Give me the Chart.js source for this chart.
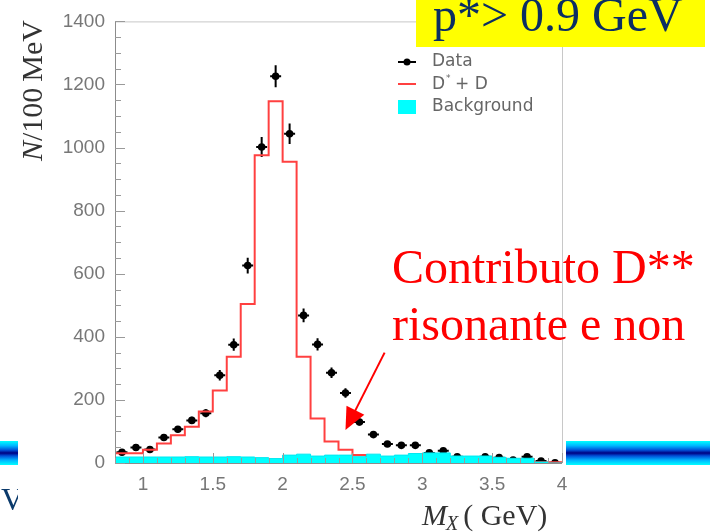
<!DOCTYPE html>
<html lang="en">
<head>
<meta charset="UTF-8">
<title>M_X distribution</title>
<script src="https://cdn.jsdelivr.net/npm/chart.js"></script>
<style>
  body { margin: 0; padding: 0; background: #fff; }
  canvas { display: block; }
</style>
</head>
<body>
<canvas id="mx-chart" width="710" height="532"></canvas>
<script>
// 100 MeV bins from 0.8 to 4.0 GeV
const binEdges = [0.8, 0.9, 1.0, 1.1, 1.2, 1.3, 1.4, 1.5, 1.6, 1.7, 1.8, 1.9, 2.0, 2.1, 2.2, 2.3, 2.4,
                  2.5, 2.6, 2.7, 2.8, 2.9, 3.0, 3.1, 3.2, 3.3, 3.4, 3.5, 3.6, 3.7, 3.8, 3.9, 4.0];
const binCenters = [0.85, 0.95, 1.05, 1.15, 1.25, 1.35, 1.45, 1.55, 1.65, 1.75, 1.85, 1.95, 2.05, 2.15, 2.25, 2.35,
                    2.45, 2.55, 2.65, 2.75, 2.85, 2.95, 3.05, 3.15, 3.25, 3.35, 3.45, 3.55, 3.65, 3.75, 3.85, 3.95];
const dataCounts = [34, 49, 43, 81, 107, 135, 158, 278, 375, 626, 1002, 1226, 1044, 468, 376, 286,
                    222, 130, 90, 60, 56, 56, 32, 39, 20, 9, 20, 17, 9, 20, 6, 1];
const dstarDCounts = [31, 31, 42, 62, 88, 115, 163, 230, 337, 504, 976, 1147, 955, 337, 141, 68,
                      42, 25, 15, 9, 9, 7, 7, 4, 4, 3, 3, 3, 3, 3, 2, 2];
const backgroundCounts = [19, 19, 19, 19, 19, 20, 19, 19, 20, 19, 17, 14, 25, 28, 22, 25,
                          25, 20, 28, 22, 25, 30, 32, 32, 22, 22, 22, 18, 15, 15, 3, 0];
const xTicks = [1, 1.5, 2, 2.5, 3, 3.5, 4];
const yTicks = [0, 200, 400, 600, 800, 1000, 1200, 1400];

// left-edge points + closing point, drawn as a step histogram
function histPoints(counts) {
    const pts = counts.map((c, i) => ({ x: binEdges[i], y: c }));
    pts.push({ x: binEdges[binEdges.length - 1], y: counts[counts.length - 1] });
    return pts;
}

const dataPoints = binCenters.map((x, i) => ({ x: x, y: dataCounts[i] }));

// error bars: sqrt(N) vertically, bin width horizontally
const errorBars = {
    id: 'errorBars',
    beforeDatasetDraw(chart, args) {
        if (args.index !== 2) return;
        const xs = chart.scales.x, ys = chart.scales.y, ctx = chart.ctx;
        ctx.save();
        ctx.strokeStyle = '#000';
        ctx.lineWidth = 2;
        dataCounts.forEach((n, i) => {
            const err = Math.sqrt(n);
            const px = xs.getPixelForValue(binCenters[i]);
            const py = ys.getPixelForValue(n);
            const x0 = xs.getPixelForValue(binEdges[i]) + 1.5;
            const x1 = xs.getPixelForValue(binEdges[i + 1]) - 1.5;
            ctx.beginPath();
            ctx.moveTo(x0, py); ctx.lineTo(x1, py);
            ctx.moveTo(px, ys.getPixelForValue(Math.max(0, n - err)));
            ctx.lineTo(px, ys.getPixelForValue(n + err));
            ctx.stroke();
        });
        ctx.restore();
    }
};

// frame and inward tick marks
const frameTicks = {
    id: 'frameTicks',
    afterDatasetsDraw(chart) {
        const { ctx, chartArea: a } = chart;
        const xs = chart.scales.x, ys = chart.scales.y;
        ctx.save();
        ctx.lineWidth = 1;
        ctx.strokeStyle = '#c8c8c8';
        ctx.beginPath();
        ctx.moveTo(a.left, a.top + 0.5); ctx.lineTo(a.right + 0.5, a.top + 0.5);
        ctx.lineTo(a.right + 0.5, a.bottom);
        ctx.stroke();
        ctx.strokeStyle = '#8c8c8c';
        ctx.beginPath();
        ctx.moveTo(a.left + 0.5, a.top); ctx.lineTo(a.left + 0.5, a.bottom + 0.5);
        ctx.lineTo(a.right, a.bottom + 0.5);
        ctx.stroke();
        ctx.strokeStyle = '#9a9a9a';
        ctx.beginPath();
        for (let v = 0; v <= 1400; v += 50) {
            const y = Math.round(ys.getPixelForValue(v)) + 0.5;
            const len = v % 200 === 0 ? 10 : 6;
            ctx.moveTo(a.left, y); ctx.lineTo(a.left + len, y);
        }
        binEdges.forEach(e => {
            const x = Math.round(xs.getPixelForValue(e)) + 0.5;
            const len = xTicks.includes(e) ? 10 : 5;
            ctx.moveTo(x, a.bottom); ctx.lineTo(x, a.bottom - len);
        });
        ctx.stroke();
        ctx.restore();
    }
};

// titles, legend, note, arrow and page decorations
const overlay = {
    id: 'overlay',
    afterDraw(chart) {
        const ctx = chart.ctx;
        const xs = chart.scales.x, ys = chart.scales.y;
        ctx.save();

        // y title
        ctx.save();
        ctx.translate(42, 161);
        ctx.rotate(-Math.PI / 2);
        ctx.fillStyle = '#333';
        ctx.textBaseline = 'alphabetic';
        ctx.textAlign = 'left';
        ctx.font = 'italic 30px "Liberation Serif"';
        ctx.fillText('N', 0, 0);
        let w = ctx.measureText('N').width;
        ctx.font = '30px "Liberation Serif"';
        ctx.fillText('/100\u2009MeV', w, 0);
        ctx.restore();

        // x title
        ctx.fillStyle = '#333';
        ctx.textBaseline = 'alphabetic';
        ctx.textAlign = 'left';
        ctx.font = 'italic 30px "Liberation Serif"';
        ctx.fillText('M', 422, 525);
        w = ctx.measureText('M').width;
        ctx.font = 'italic 20px "Liberation Serif"';
        ctx.fillText('X', 421 + w, 530);
        const w2 = ctx.measureText('X').width;
        ctx.font = '30px "Liberation Serif"';
        ctx.fillText('( GeV)', 422 + w + w2 + 4, 525);

        // legend
        ctx.font = '17px "DejaVu Sans"';
        ctx.fillStyle = '#666';
        ctx.textBaseline = 'middle';
        ctx.fillText('Data', 432, 62);
        ctx.fillText('D', 432, 85);
        const dw = ctx.measureText('D').width;
        ctx.font = '9px "DejaVu Sans"';
        ctx.fillText('*', 432 + dw + 1, 79);
        ctx.font = '17px "DejaVu Sans"';
        ctx.fillText('+ D', 432 + dw + 10, 85);
        ctx.fillText('Background', 432, 107);
        ctx.strokeStyle = '#000';
        ctx.lineWidth = 2;
        ctx.beginPath(); ctx.moveTo(398, 62); ctx.lineTo(416, 62); ctx.stroke();
        ctx.fillStyle = '#000';
        ctx.beginPath(); ctx.arc(407, 62, 3.5, 0, Math.PI * 2); ctx.fill();
        ctx.strokeStyle = '#ff4040';
        ctx.beginPath(); ctx.moveTo(398, 84); ctx.lineTo(416, 84); ctx.stroke();
        ctx.fillStyle = '#00ffff';
        ctx.fillRect(398, 100, 18, 14);

        // note and arrow
        ctx.fillStyle = '#ff0000';
        ctx.textBaseline = 'alphabetic';
        ctx.font = '48px "Liberation Serif"';
        ctx.fillText('Contributo D**', 392, 283);
        ctx.fillText('risonante e non', 392, 340);
        const tx = xs.getPixelForValue(2.73), ty = ys.getPixelForValue(350);
        const hx = xs.getPixelForValue(2.45), hy = ys.getPixelForValue(105);
        const ang = Math.atan2(hy - ty, hx - tx);
        ctx.strokeStyle = '#ff0000';
        ctx.lineWidth = 2;
        ctx.beginPath();
        ctx.moveTo(tx, ty);
        ctx.lineTo(hx - 14 * Math.cos(ang), hy - 14 * Math.sin(ang));
        ctx.stroke();
        ctx.beginPath();
        ctx.moveTo(hx, hy);
        ctx.lineTo(hx - 22 * Math.cos(ang) + 10 * Math.sin(ang), hy - 22 * Math.sin(ang) - 10 * Math.cos(ang));
        ctx.lineTo(hx - 22 * Math.cos(ang) - 10 * Math.sin(ang), hy - 22 * Math.sin(ang) + 10 * Math.cos(ang));
        ctx.closePath();
        ctx.fill();

        // momentum cut label
        ctx.fillStyle = '#ffff00';
        ctx.fillRect(416, 0, 289, 47);
        ctx.fillStyle = '#0b2e63';
        ctx.font = '48px "Liberation Serif"';
        ctx.fillText('p*> 0.9 GeV', 433, 31);

        // slide stripes
        [[0, 18], [566, 710]].forEach(([x0, x1]) => {
            const g = ctx.createLinearGradient(0, 441, 0, 465);
            g.addColorStop(0, '#00ffff');
            g.addColorStop(0.2, '#00b4ff');
            g.addColorStop(0.38, '#0050d8');
            g.addColorStop(0.5, '#000080');
            g.addColorStop(0.62, '#0050d8');
            g.addColorStop(0.8, '#00b4ff');
            g.addColorStop(1, '#00ffff');
            ctx.fillStyle = g;
            ctx.fillRect(x0, 441, x1 - x0, 24);
        });
        ctx.save();
        ctx.beginPath(); ctx.rect(0, 470, 18, 62); ctx.clip();
        ctx.fillStyle = '#0b3a6b';
        ctx.font = '32px "Liberation Serif"';
        ctx.fillText('V', 1, 510);
        ctx.restore();

        ctx.restore();
    }
};

const tickFont = { family: '"Liberation Sans"', size: 19 };

new Chart(document.getElementById('mx-chart'), {
    type: 'line',
    data: {
        datasets: [
            {
                label: 'Background',
                data: histPoints(backgroundCounts),
                stepped: 'before',
                borderColor: '#00e8f0',
                borderWidth: 1,
                backgroundColor: '#00ffff',
                fill: 'origin',
                pointRadius: 0
            },
            {
                label: 'D* + D',
                data: histPoints(dstarDCounts),
                stepped: 'before',
                borderColor: '#ff4040',
                borderWidth: 2,
                fill: false,
                pointRadius: 0
            },
            {
                label: 'Data',
                data: dataPoints,
                showLine: false,
                pointRadius: 3.8,
                pointBackgroundColor: '#000',
                pointBorderColor: '#000',
                pointBorderWidth: 0
            }
        ]
    },
    options: {
        responsive: false,
        animation: false,
        layout: { padding: { top: 18, right: 148, left: 0, bottom: 0 } },
        plugins: { legend: { display: false }, tooltip: { enabled: false } },
        scales: {
            x: {
                type: 'linear',
                min: 0.8,
                max: 4,
                afterBuildTicks: s => { s.ticks = xTicks.map(v => ({ value: v })); },
                afterFit: s => { s.height = 69; },
                grid: { display: false, drawTicks: false },
                border: { display: false },
                ticks: { font: tickFont, color: '#777', padding: 10, maxRotation: 0,
                         callback: v => String(v) }
            },
            y: {
                min: 0,
                max: 1400,
                afterBuildTicks: s => { s.ticks = yTicks.map(v => ({ value: v })); },
                afterFit: s => { s.width = 115; },
                grid: { display: false, drawTicks: false },
                border: { display: false },
                ticks: { font: tickFont, color: '#777', padding: 10,
                         callback: v => String(v) }
            }
        }
    },
    plugins: [errorBars, frameTicks, overlay]
});
</script>
</body>
</html>
